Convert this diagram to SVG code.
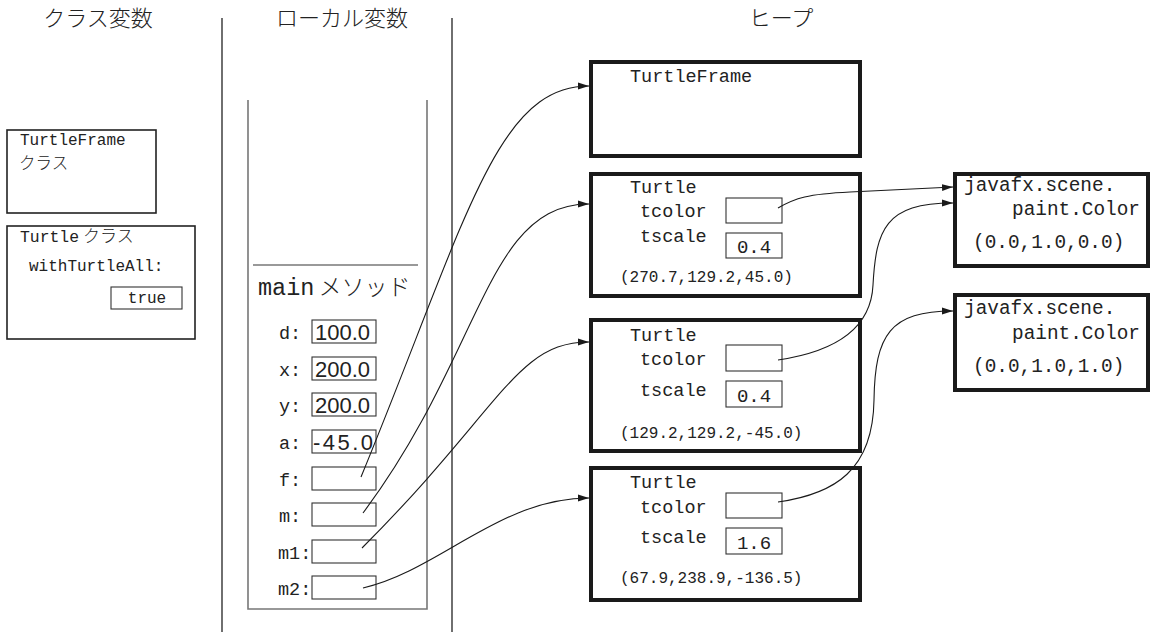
<svg xmlns="http://www.w3.org/2000/svg" width="1155" height="632" viewBox="0 0 1155 632">
  <defs>
    <marker id="arrow" markerUnits="userSpaceOnUse" markerWidth="11" markerHeight="8" viewBox="0 0 11 8" refX="11" refY="4" orient="auto">
      <path d="M0,0.6 L11,4 L0,7.4 z" fill="#1a1a1a"/>
    </marker>
    <style>
      .hdr { font-family: "Noto Sans CJK JP", sans-serif; font-size: 22px; font-weight: 300; fill: #222; text-anchor: middle; }
      .tt { font-family: "Liberation Mono", "DejaVu Sans Mono", monospace; fill: #222; }
      .jp { font-family: "Noto Sans CJK JP", sans-serif; font-weight: 300; fill: #222; }
      .num { font-family: "Liberation Sans", Arial, sans-serif; font-size: 22px; fill: #222; }
      .sep { stroke: #222; stroke-width: 1.3; fill: none; }
      .frame { stroke: #777; stroke-width: 1.6; fill: none; }
      .cls { stroke: #222; stroke-width: 1.6; fill: #fff; }
      .slot { stroke: #333; stroke-width: 1.1; fill: #fff; }
      .obj { stroke: #1a1a1a; stroke-width: 4; fill: #fff; }
      .link { stroke: #1a1a1a; stroke-width: 1.1; fill: none; marker-end: url(#arrow); }
    </style>
  </defs>

  <rect width="1155" height="632" fill="#fff"/>

  <!-- column headers and dividers -->
  <g id="headers">
    <text class="hdr" x="98" y="26">クラス変数</text>
    <text class="hdr" x="342" y="26">ローカル変数</text>
    <text class="hdr" x="781" y="26">ヒープ</text>
    <line class="sep" x1="222" y1="18" x2="222" y2="632"/>
    <line class="sep" x1="452" y1="18" x2="452" y2="632"/>
  </g>

  <!-- class variables -->
  <g id="class-turtleframe">
    <rect class="cls" x="7" y="130" width="149" height="83"/>
    <text class="tt" x="20" y="145" font-size="16">TurtleFrame</text>
    <text class="jp" x="19" y="169" font-size="16.5">クラス</text>
  </g>
  <g id="class-turtle">
    <rect class="cls" x="7" y="226" width="188" height="113"/>
    <text x="20" y="242"><tspan class="tt" font-size="16.4">Turtle</tspan><tspan class="jp" font-size="17" dx="4">クラス</tspan></text>
    <text class="tt" x="29" y="271" font-size="16">withTurtleAll:</text>
    <rect class="slot" x="111" y="287" width="71" height="22"/>
    <text class="tt" x="147" y="303" font-size="16" text-anchor="middle">true</text>
  </g>

  <!-- stack frame of main -->
  <g id="frame-main">
    <polyline class="frame" points="248,100 248,609 427,609 427,100"/>
    <line class="frame" x1="253" y1="265" x2="418" y2="265"/>
    <text x="258" y="295"><tspan class="tt" font-size="23.5">main</tspan><tspan class="jp" font-size="23" dx="4">メソッド</tspan></text>
  </g>
  <g id="var-d">
    <text class="tt" x="279" y="339" font-size="18.5">d:</text>
    <rect class="slot" x="312" y="320" width="64" height="23"/>
    <text class="num" x="315" y="340">100.0</text>
  </g>
  <g id="var-x">
    <text class="tt" x="279" y="376" font-size="18.5">x:</text>
    <rect class="slot" x="312" y="357" width="64" height="23"/>
    <text class="num" x="315" y="377">200.0</text>
  </g>
  <g id="var-y">
    <text class="tt" x="279" y="412" font-size="18.5">y:</text>
    <rect class="slot" x="312" y="393" width="64" height="23"/>
    <text class="num" x="315" y="413">200.0</text>
  </g>
  <g id="var-a">
    <text class="tt" x="279" y="449" font-size="18.5">a:</text>
    <rect class="slot" x="312" y="430" width="64" height="23"/>
    <text class="num" x="313" y="450" textLength="60" lengthAdjust="spacing">-45.0</text>
  </g>
  <g id="var-f">
    <text class="tt" x="279" y="486" font-size="18.5">f:</text>
    <rect class="slot" x="312" y="467" width="64" height="23"/>
  </g>
  <g id="var-m">
    <text class="tt" x="279" y="522" font-size="18.5">m:</text>
    <rect class="slot" x="312" y="503" width="64" height="23"/>
  </g>
  <g id="var-m1">
    <text class="tt" x="278" y="559" font-size="18.5">m1:</text>
    <rect class="slot" x="312" y="540" width="64" height="23"/>
  </g>
  <g id="var-m2">
    <text class="tt" x="278" y="595" font-size="18.5">m2:</text>
    <rect class="slot" x="312" y="576" width="64" height="23"/>
  </g>

  <!-- heap objects -->
  <g id="obj-turtleframe">
    <rect class="obj" x="591" y="62" width="269" height="94"/>
    <text class="tt" x="630" y="82" font-size="18.5">TurtleFrame</text>
  </g>
  <g id="obj-turtle-f">
    <rect class="obj" x="591" y="174" width="269" height="122"/>
    <text class="tt" x="630" y="193" font-size="18.5">Turtle</text>
    <text class="tt" x="640" y="217" font-size="18.5">tcolor</text>
    <rect class="slot" x="726" y="198" width="56" height="25"/>
    <text class="tt" x="640" y="242" font-size="18.5">tscale</text>
    <rect class="slot" x="726" y="233" width="56" height="25"/>
    <text class="tt" x="754" y="253" font-size="19" text-anchor="middle">0.4</text>
    <text class="tt" x="620" y="282" font-size="16">(270.7,129.2,45.0)</text>
  </g>
  <g id="obj-turtle-m">
    <rect class="obj" x="591" y="320" width="269" height="131"/>
    <text class="tt" x="630" y="341" font-size="18.5">Turtle</text>
    <text class="tt" x="640" y="365" font-size="18.5">tcolor</text>
    <rect class="slot" x="726" y="345" width="56" height="26"/>
    <text class="tt" x="640" y="396" font-size="18.5">tscale</text>
    <rect class="slot" x="726" y="381" width="56" height="26"/>
    <text class="tt" x="754" y="402" font-size="19" text-anchor="middle">0.4</text>
    <text class="tt" x="620" y="438" font-size="16">(129.2,129.2,-45.0)</text>
  </g>
  <g id="obj-turtle-m1">
    <rect class="obj" x="591" y="468" width="269" height="132"/>
    <text class="tt" x="630" y="488" font-size="18.5">Turtle</text>
    <text class="tt" x="640" y="513" font-size="18.5">tcolor</text>
    <rect class="slot" x="726" y="493" width="56" height="25"/>
    <text class="tt" x="640" y="543" font-size="18.5">tscale</text>
    <rect class="slot" x="726" y="528" width="56" height="26"/>
    <text class="tt" x="754" y="549" font-size="19" text-anchor="middle">1.6</text>
    <text class="tt" x="620" y="583" font-size="16">(67.9,238.9,-136.5)</text>
  </g>
  <g id="obj-color-green">
    <rect class="obj" x="955" y="174" width="193" height="92"/>
    <text class="tt" x="964" y="191" font-size="19.4">javafx.scene.</text>
    <text class="tt" x="1012" y="215" font-size="19.4">paint.Color</text>
    <text class="tt" x="973" y="248" font-size="19.4">(0.0,1.0,0.0)</text>
  </g>
  <g id="obj-color-cyan">
    <rect class="obj" x="955" y="295" width="193" height="95"/>
    <text class="tt" x="964" y="314" font-size="19.4">javafx.scene.</text>
    <text class="tt" x="1012" y="339" font-size="19.4">paint.Color</text>
    <text class="tt" x="973" y="372" font-size="19.4">(0.0,1.0,1.0)</text>
  </g>

  <!-- references -->
  <g id="connectors">
    <path class="link" d="M361,477 C467,219 496,86 589,86"/>
    <path class="link" d="M363,513 C483,353 486,204 589,204"/>
    <path class="link" d="M362,548 C502,408 516,342 589,342"/>
    <path class="link" d="M363,588 C440,570 500,498 589,498"/>
    <path class="link" d="M778,208 C795,198 808,194 850,192 L953,187"/>
    <path class="link" d="M778,360 C832,352 871,330 873,285 C876,230 885,203 953,203"/>
    <path class="link" d="M778,502 C835,494 873,470 874,400 C875,335 890,311 953,311"/>
  </g>
</svg>
